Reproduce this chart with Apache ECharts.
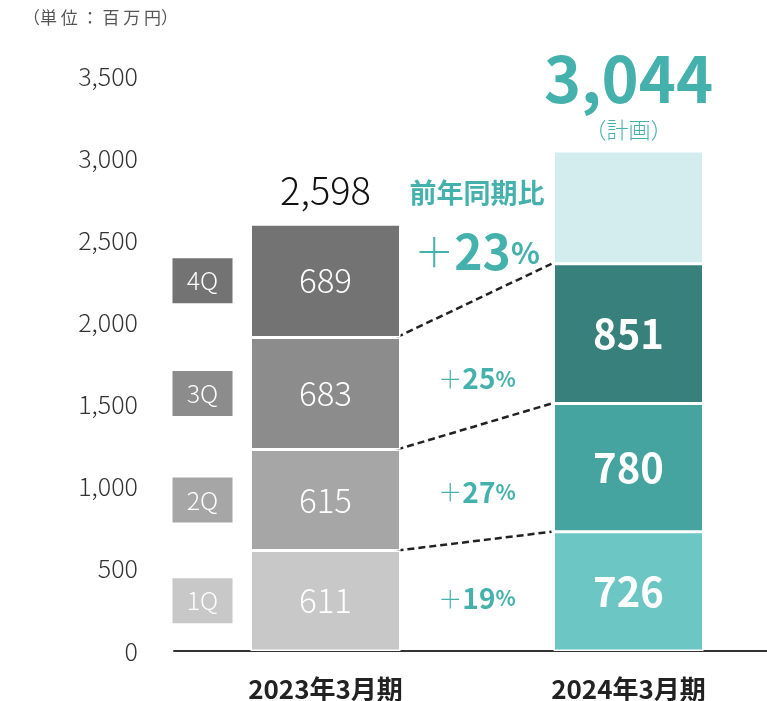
<!DOCTYPE html>
<html lang="ja">
<head>
<meta charset="UTF-8">
<title>四半期売上高</title>
<script src="https://cdn.jsdelivr.net/npm/echarts@6/dist/echarts.min.js"></script>
<style>
  html, body { margin: 0; padding: 0; background: #fff; }
  #main { width: 767px; height: 701px; }
</style>
</head>
<body>
<div id="main"></div>
<script>
// データ
var years = ['2023年3月期', '2024年3月期'];
var quarters = ['1Q', '2Q', '3Q', '4Q'];
var fy2023 = [611, 615, 683, 689];
var fy2024 = [726, 780, 851, 687];   // 4Qは計画残り（合計3,044）
var total2023 = 2598;
var plan2024 = 3044;
var growth = ['19', '27', '25'];      // 前年同期比（四半期）
var growthYtd = '23';                 // 前年同期比（1Q〜3Q累計）
var yMax = 3500, yStep = 500;

var gray = ['#c8c8c8', '#a6a6a6', '#8c8c8c', '#737373'];
var teal = ['#6cc6c4', '#45a3a0', '#37807c', '#d3ecee'];
var accent = '#45b1ad';
var FONT = '"Noto Sans CJK JP", "Noto Sans", sans-serif';
var HALF = 75; // 棒の半幅

function cum(arr) {
  var s = 0;
  return arr.map(function (v) { s += v; return s; });
}
var cum23 = cum(fy2023), cum24 = cum(fy2024);

var chart = echarts.init(document.getElementById('main'));

// 積み上げ棒
var barSeries = quarters.map(function (q, i) {
  return {
    name: q,
    type: 'bar',
    stack: 'total',
    barWidth: 150,
    itemStyle: { borderColor: '#fff', borderWidth: 1.5 },
    data: [
      {
        value: fy2023[i],
        itemStyle: { color: gray[i] },
        label: { show: true, color: '#fff', fontSize: 33, fontWeight: 300, fontFamily: FONT }
      },
      {
        value: fy2024[i],
        itemStyle: { color: teal[i] },
        label: { show: i < 3, color: '#fff', fontSize: 40, fontWeight: 'bold', fontFamily: FONT }
      }
    ],
    label: { position: 'inside' }
  };
});

// 破線と前年同期比
var linkSeries = {
  type: 'custom',
  clip: false,
  silent: true,
  data: [0, 1, 2].map(function (i) {
    return [i, cum23[i], cum24[i], cum23[i] - fy2023[i] / 2, cum24[i] - fy2024[i] / 2];
  }),
  renderItem: function (params, api) {
    var i = api.value(0);
    var a = api.coord([0, api.value(1)]);
    var b = api.coord([1, api.value(2)]);
    var ma = api.coord([0, api.value(3)]);
    var mb = api.coord([1, api.value(4)]);
    var mx = (a[0] + b[0]) / 2;
    var my = ma[1] * 0.75 + mb[1] * 0.25;
    return {
      type: 'group',
      children: [
        {
          type: 'line',
          shape: { x1: a[0] + HALF - 4, y1: a[1], x2: b[0] - HALF - 2, y2: b[1] },
          style: { stroke: '#222', lineWidth: 2.5, lineDash: [7, 4] }
        },
        {
          type: 'text',
          style: {
            x: mx, y: my, align: 'center', verticalAlign: 'middle',
            text: '{p|＋}{n|' + growth[i] + '}{s|%}',
            rich: {
              p: { fontSize: 24, fontWeight: 300, fill: accent, color: accent, fontFamily: FONT },
              n: { fontSize: 28, fontWeight: 'bold', fill: accent, color: accent, fontFamily: FONT },
              s: { fontSize: 21, fontWeight: 'bold', fill: accent, color: accent, fontFamily: FONT }
            }
          }
        }
      ]
    };
  }
};

// 左側の四半期タグ
var tagSeries = {
  type: 'custom',
  clip: false,
  silent: true,
  data: quarters.map(function (q, i) { return [0, cum23[i] - fy2023[i] / 2, i]; }),
  renderItem: function (params, api) {
    var p = api.coord([0, api.value(1)]);
    var i = api.value(2);
    var cx = p[0] - 123;
    return {
      type: 'group',
      children: [
        { type: 'rect', shape: { x: cx - 30, y: p[1] - 22.5, width: 60, height: 45 }, style: { fill: gray[i] } },
        {
          type: 'text',
          style: {
            x: cx, y: p[1], align: 'center', verticalAlign: 'middle', text: quarters[i],
            fill: '#fff', fontSize: 25, fontWeight: 300, fontFamily: FONT
          }
        }
      ]
    };
  }
};

// 合計・計画・前年同期比（累計）
var headSeries = {
  type: 'custom',
  clip: false,
  silent: true,
  data: [[0, total2023, plan2024]],
  renderItem: function (params, api) {
    var a = api.coord([0, api.value(1)]);
    var b = api.coord([1, api.value(2)]);
    var mx = (a[0] + b[0]) / 2;
    return {
      type: 'group',
      children: [
        {
          type: 'text',
          style: {
            x: a[0], y: a[1] - 34, align: 'center', verticalAlign: 'middle',
            text: total2023.toLocaleString('en-US'),
            fill: '#111', fontSize: 38, fontWeight: 300, fontFamily: FONT
          }
        },
        {
          type: 'text',
          style: {
            x: b[0], y: b[1] - 72, align: 'center', verticalAlign: 'middle',
            text: plan2024.toLocaleString('en-US'),
            fill: accent, fontSize: 63, fontWeight: 'bold', fontFamily: FONT
          }
        },
        {
          type: 'text',
          style: {
            x: b[0], y: b[1] - 21, align: 'center', verticalAlign: 'middle',
            text: '（計画）', fill: accent, fontSize: 22, fontWeight: 300, fontFamily: FONT
          }
        },
        {
          type: 'text',
          style: {
            x: mx, y: a[1] - 31, align: 'center', verticalAlign: 'middle',
            text: '前年同期比', fill: accent, fontSize: 27, fontWeight: 'bold', fontFamily: FONT
          }
        },
        {
          type: 'text',
          style: {
            x: mx, y: a[1] + 28, align: 'center', verticalAlign: 'middle',
            text: '{p|＋}{n|' + growthYtd + '}{s|%}',
            rich: {
              p: { fontSize: 40, fontWeight: 300, fill: accent, color: accent, fontFamily: FONT },
              n: { fontSize: 48, fontWeight: 'bold', fill: accent, color: accent, fontFamily: FONT },
              s: { fontSize: 30, fontWeight: 'bold', fill: accent, color: accent, fontFamily: FONT }
            }
          }
        }
      ]
    };
  }
};

var option = {
  animation: false,
  backgroundColor: '#fff',
  textStyle: { fontFamily: FONT },
  graphic: [{
    type: 'text',
    left: 23, top: 9,
    style: { text: '（単 位 ： 百 万 円）', fill: '#555', fontSize: 17, fontFamily: FONT }
  }],
  grid: { left: 174, top: 76, bottom: 50, width: 606, outerBoundsMode: 'none' },
  xAxis: {
    type: 'category',
    data: years,
    axisTick: { show: false },
    axisLine: { lineStyle: { color: '#333', width: 2 } },
    axisLabel: { color: '#222', fontSize: 26, fontWeight: 'bold', margin: 25, fontFamily: FONT }
  },
  yAxis: {
    type: 'value',
    min: 0, max: yMax, interval: yStep,
    axisLine: { show: false },
    axisTick: { show: false },
    splitLine: { show: false },
    axisLabel: {
      color: '#333', fontSize: 25, fontWeight: 300, margin: 36, fontFamily: FONT,
      formatter: function (v) { return v.toLocaleString('en-US'); }
    }
  },
  series: barSeries.concat([linkSeries, tagSeries, headSeries])
};

chart.setOption(option);
</script>
</body>
</html>
